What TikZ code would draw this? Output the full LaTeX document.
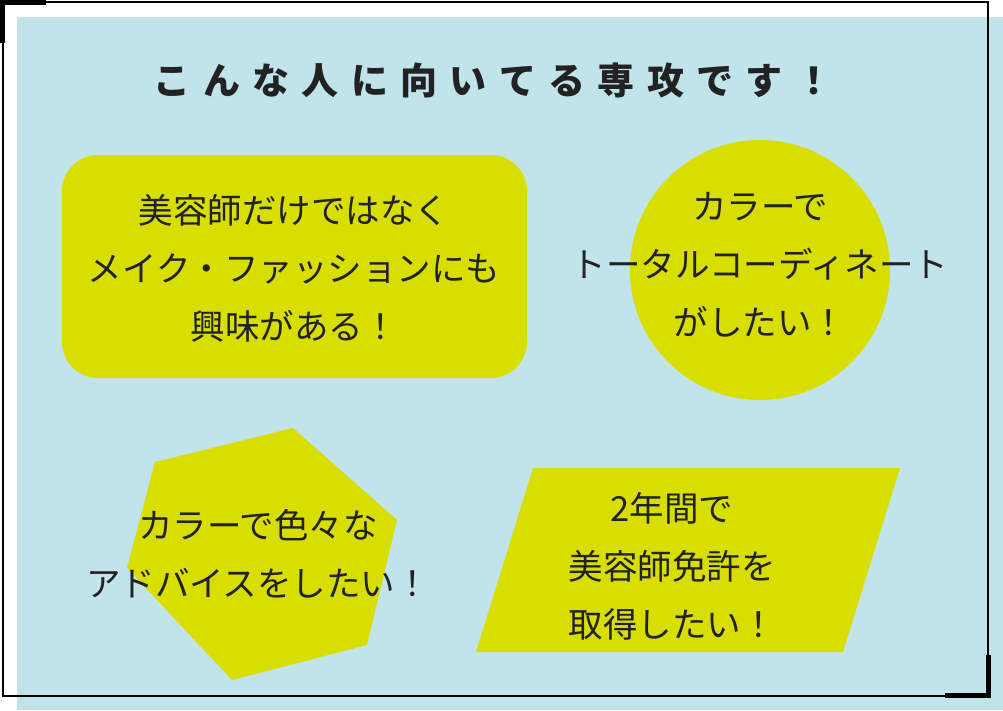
\documentclass[tikz,border=0pt]{standalone}
\usepackage{fontspec}
\newfontfamily\cjk{Noto Sans CJK JP}
\usetikzlibrary{positioning}
\definecolor{skyback}{HTML}{C1E3EA}
\definecolor{lime}{HTML}{D8DF00}
\definecolor{ink}{HTML}{222222}
\tikzset{
  blob/.style={fill=lime, draw=none},
  msg/.style={align=center, text=ink, font=\cjk\fontsize{34.5}{58}\selectfont}
}
\begin{document}
\begin{tikzpicture}[x=1pt, y=-1pt]
  \useasboundingbox (0,0) rectangle (1003,710);
  \fill[skyback] (17,17) rectangle (1003,710);
  \draw[line width=1.2pt] (3,2) rectangle (988,696);
  \draw[line width=5pt] (46,2.5) -- (2.5,2.5) -- (2.5,43);
  \draw[line width=5pt] (988,655) -- (988,695.5) -- (945,695.5);

  \node[text=ink, font=\cjk\bfseries\fontsize{37}{40}\selectfont] (title) at (493,80)
    {こ\,\,ん\,\,な\,\,人\,\,に\,\,向\,\,い\,\,て\,\,る\,\,専\,\,攻\,\,で\,\,す\,\,！};

  % bubbles
  \fill[blob, rounded corners=36pt] (62,155) rectangle (527,378);
  \fill[blob] (760,270) circle (130);
  \fill[blob] (155,462) -- (293,428) -- (397,520) -- (367,645) -- (232,680) -- (127,568) -- cycle;
  \fill[blob] (533,468) -- (900,468) -- (843,652) -- (476,652) -- cycle;

  \node[msg] (beauty) at (294,268) {美容師だけではなく\\メイク・ファッションにも\\興味がある！};
  \node[msg] (coord) at (760,265) {カラーで\\トータルコーディネート\\がしたい！};
  \node[msg] (advice) at (258,554) {カラーで色々な\\アドバイスをしたい！};
  \node[msg] (license) at (672,566) {2年間で\\美容師免許を\\取得したい！};
\end{tikzpicture}
\end{document}
